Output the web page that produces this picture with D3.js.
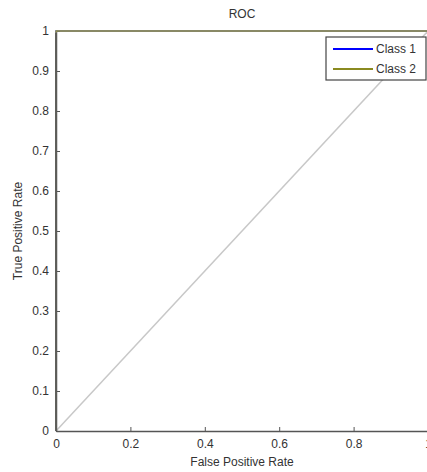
<!DOCTYPE html>
<html>
<head>
<meta charset="utf-8">
<script src="https://cdn.jsdelivr.net/npm/d3@7"></script>
<style>
  body { margin: 0; background: #fff; }
  text { font-family: "Liberation Sans", Arial, sans-serif; fill: #333; }
</style>
</head>
<body>
<svg id="chart"></svg>
<script>
var width = 427;
var height = 472;

// ROC points (false positive rate, true positive rate)
var class1Fpr = [0, 0, 1];
var class1Tpr = [0, 1, 1];
var class2Fpr = [0, 0, 1];
var class2Tpr = [0, 1, 1];
var chanceFpr = [0, 1];
var chanceTpr = [0, 1];

var xTicks = [0, 0.2, 0.4, 0.6, 0.8, 1];
var yTicks = [0, 0.1, 0.2, 0.3, 0.4, 0.5, 0.6, 0.7, 0.8, 0.9, 1];
var legendLabels = ["Class 1", "Class 2"];
var seriesColors = ["#0000ff", "#a3a335"];

var xScale = d3.scaleLinear()
               .domain([0, 1])
               .range([56, 428]);

var yScale = d3.scaleLinear()
               .domain([0, 1])
               .range([431, 31]);

var svg = d3.select("#chart")
            .attr("width", width)
            .attr("height", height);

var line = d3.line()
             .x(d => xScale(d[0]))
             .y(d => yScale(d[1]));

function zipPts(xs, ys) {
    return xs.map((x, i) => [x, ys[i]]);
}

// chance diagonal
svg.append("path")
    .attr("d", line(zipPts(chanceFpr, chanceTpr)))
    .attr("fill", "none")
    .attr("stroke", "#c8c8c8")
    .attr("stroke-width", 1.5);

var xAxis = d3.axisBottom(xScale)
              .tickValues(xTicks)
              .tickFormat(d => d3.format("")(d))
              .tickSize(-4)
              .tickSizeOuter(0)
              .tickPadding(8);

var yAxis = d3.axisLeft(yScale)
              .tickValues(yTicks)
              .tickFormat(d => d3.format("")(d))
              .tickSize(-4)
              .tickSizeOuter(0)
              .tickPadding(7);

var gx = svg.append("g")
    .attr("transform", "translate(0," + yScale(0) + ")")
    .call(xAxis);

var gy = svg.append("g")
    .attr("transform", "translate(" + xScale(0) + ",0)")
    .call(yAxis);

[gx, gy].forEach(g => {
    g.select(".domain").attr("stroke", "#555").attr("stroke-width", 1.5);
    g.selectAll(".tick line").attr("stroke", "#555");
    g.selectAll(".tick text")
        .attr("font-size", 12)
        .attr("font-family", "Liberation Sans, Arial, sans-serif")
        .attr("fill", "#444");
});

// roc curves
var series = [zipPts(class1Fpr, class1Tpr), zipPts(class2Fpr, class2Tpr)];
svg.selectAll(".roc")
    .data(series)
    .enter()
    .append("path")
    .classed("roc", true)
    .attr("d", d => line(d))
    .attr("fill", "none")
    .attr("stroke", (d, i) => seriesColors[i])
    .attr("stroke-width", 1.3);

// left axis line sits on top of the curves, as in the original
svg.append("line")
    .attr("x1", xScale(0)).attr("x2", xScale(0))
    .attr("y1", yScale(0)).attr("y2", yScale(0.995))
    .attr("stroke", "#555")
    .attr("stroke-width", 1.5);

// title and axis labels
svg.append("text")
    .attr("x", 242)
    .attr("y", 18)
    .attr("text-anchor", "middle")
    .attr("font-size", 12)
    .text("ROC");

svg.append("text")
    .attr("x", 242)
    .attr("y", 466)
    .attr("text-anchor", "middle")
    .attr("font-size", 12)
    .text("False Positive Rate");

svg.append("text")
    .attr("transform", "translate(22," + yScale(0.5) + ") rotate(-90)")
    .attr("text-anchor", "middle")
    .attr("font-size", 12)
    .text("True Positive Rate");

// legend
var legend = svg.append("g")
    .attr("transform", "translate(326,37)");

legend.append("rect")
    .attr("width", 100)
    .attr("height", 43)
    .attr("fill", "#fff")
    .attr("stroke", "#444")
    .attr("stroke-width", 1.2);

legendLabels.forEach((lab, i) => {
    legend.append("line")
        .attr("x1", 7).attr("x2", 47)
        .attr("y1", 12 + i * 20).attr("y2", 12 + i * 20)
        .attr("stroke", i === 1 ? "#8a8a20" : seriesColors[i])
        .attr("stroke-width", 2);
    legend.append("text")
        .attr("x", 50)
        .attr("y", 16 + i * 20)
        .attr("font-size", 12)
        .text(lab);
});
</script>
</body>
</html>
